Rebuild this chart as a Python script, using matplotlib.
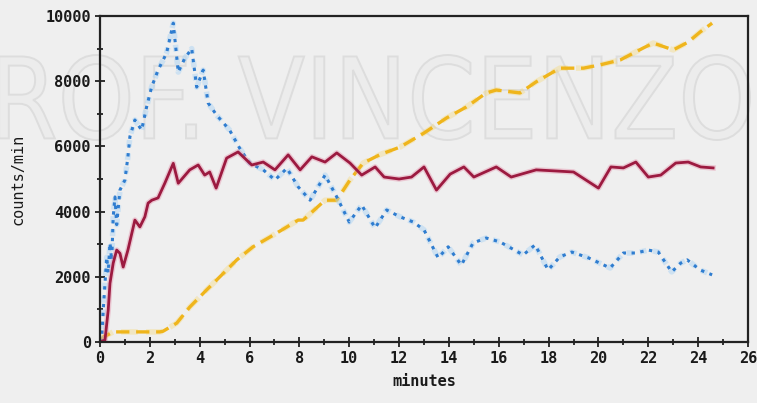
import matplotlib
matplotlib.use("Agg")
import matplotlib.pyplot as plt
from matplotlib.ticker import MultipleLocator
from matplotlib.textpath import TextPath
from matplotlib.patches import PathPatch
from matplotlib.font_manager import FontProperties
from matplotlib.transforms import Affine2D

# ---- data ----
t_red = [0, 0.2, 0.33, 0.4, 0.53, 0.67, 0.8, 0.93, 1.12, 1.4, 1.6, 1.8, 1.93, 2.08, 2.33,
         2.6, 2.94, 3.14, 3.6, 3.94, 4.2, 4.4, 4.66, 5.08, 5.54, 6.09, 6.55, 7.02, 7.55,
         8.03, 8.5, 9.03, 9.5, 10.03, 10.5, 11.04, 11.4, 12.0, 12.5, 13.0, 13.5, 14.05,
         14.6, 15.0, 15.9, 16.5, 17.5, 18.2, 19.0, 20.0, 20.5, 21.0, 21.5, 22.0, 22.5,
         23.1, 23.6, 24.1, 24.6]
red = [0, 60, 980, 1800, 2420, 2820, 2720, 2300, 2820, 3740, 3530, 3840, 4260, 4350, 4420,
       4870, 5480, 4870, 5280, 5430, 5120, 5215, 4720, 5640, 5830, 5430, 5520, 5280, 5740,
       5280, 5680, 5520, 5800, 5490, 5120, 5370, 5060, 5000, 5060, 5370, 4660, 5150,
       5370, 5060, 5370, 5060, 5280, 5250, 5215, 4720, 5370, 5340, 5520, 5060, 5120,
       5490, 5520, 5370, 5340]

t_blue = [0, 0.07, 0.13, 0.2, 0.27, 0.33, 0.4, 0.47, 0.53, 0.6, 0.67, 0.8, 1.0, 1.12, 1.2,
          1.4, 1.67, 1.87, 2.07, 2.33, 2.67, 2.94, 3.14, 3.4, 3.68, 3.88, 4.14, 4.34, 4.68,
          5.2, 5.6, 6.0, 6.55, 7.02, 7.5, 7.95, 8.43, 9.03, 9.5, 10.0, 10.5, 11.04, 11.5,
          12.04, 12.57, 13.0, 13.57, 13.97, 14.5, 14.97, 15.5, 16.05, 16.98, 17.46, 17.98,
          18.45, 18.93, 19.6, 20.47, 21.0, 21.5, 22.0, 22.4, 22.94, 23.3, 23.56, 24.08, 24.56]
blue = [0, 60, 980, 1800, 2600, 2120, 3040, 2500, 3840, 4450, 3600, 4660, 4970, 5680, 6300,
        6810, 6500, 7210, 7820, 8340, 8860, 9780, 8280, 8700, 9000, 7820, 8340, 7330, 6960,
        6500, 5950, 5490, 5280, 4970, 5330, 4760, 4350, 5120, 4450, 3680, 4200, 3500, 4050,
        3840, 3680, 3440, 2580, 2920, 2360, 3040, 3190, 3070, 2670, 2980, 2210,
        2610, 2760, 2580, 2270, 2730, 2730, 2820, 2760, 2150, 2420, 2520, 2210, 2060]

t_yel = [0, 0.13, 0.53, 1.33, 2.4, 2.53, 3.08, 3.6, 4.28, 4.94, 5.49, 6.14, 6.82, 7.5, 7.95,
         8.15, 9.03, 9.5, 10.03, 10.56, 11.24, 12.04, 13.0, 13.9, 14.7, 15.5, 15.9, 16.85,
         17.5, 18.45, 19.4, 20.06, 20.87, 21.8, 22.2, 23.0, 23.6, 24.08, 24.56]
yel = [0, 150, 310, 310, 310, 330, 580, 1070, 1600, 2100, 2520, 2920, 3220, 3530, 3740,
       3740, 4350, 4350, 4970, 5490, 5750, 5980, 6410, 6870, 7210, 7640, 7730, 7640,
       7980, 8400, 8400, 8500, 8650, 9020, 9170, 8960, 9200, 9510, 9780]

x_ticks = list(range(0, 27, 2))
y_ticks = list(range(0, 10001, 2000))
watermark = "PROF. VINCENZO"

# ---- figure ----
W, H = 757, 403
fig = plt.figure(figsize=(W / 100, H / 100), dpi=100, facecolor="#efefef")
ax = fig.add_axes([100 / W, 1 - 342 / H, 648 / W, 326 / H])
ax.set_facecolor("none")

# watermark (outlined, faint)
tp = TextPath((0, 0), watermark, size=1, prop=FontProperties(family="DejaVu Sans"))
bb = tp.get_extents()
x0, x1 = -60, 750
y0, y1 = H - 140, H - 55
tr = (Affine2D().translate(-bb.x0, -bb.y0)
      .scale((x1 - x0) / bb.width / W, (y1 - y0) / bb.height / H)
      .translate(x0 / W, y0 / H)) + fig.transFigure
wm = PathPatch(tp, transform=tr, facecolor="#ececec", edgecolor="#dddddd", lw=1.4, zorder=-1)
fig.patches.append(wm)

# lines
ax.plot(t_yel, yel, color="#f7d35a", lw=4.0, alpha=0.3, ls=(0, (3, 1.5)))
ax.plot(t_yel, yel, color="#efb51c", lw=2.4, ls=(0, (4, 2)))
ax.plot(t_blue, blue, color="#a6d2f5", lw=4.0, alpha=0.45, ls=(0, (1.2, 1.2)))
ax.plot(t_blue, blue, color="#2f7dd0", lw=2.2, ls=(0, (1.1, 1.8)))
ax.plot(t_red, red, color="#e38aa6", lw=4.0, alpha=0.4)
ax.plot(t_red, red, color="#9c1a40", lw=2.0)

ax.set_xlim(0, 26)
ax.set_ylim(0, 10000)
ax.set_xticks(x_ticks)
ax.set_yticks(y_ticks)
ax.xaxis.set_minor_locator(MultipleLocator(1))
ax.yaxis.set_minor_locator(MultipleLocator(1000))
ax.tick_params(which="both", direction="inout", color="#222222", width=1.3)
ax.tick_params(which="major", length=7, pad=3)
ax.tick_params(which="minor", length=5)

for s in ax.spines.values():
    s.set_linewidth(1.6)
    s.set_color("#222222")

mono_b = dict(family="DejaVu Sans Mono", weight="bold", size=11)
for lab in ax.get_xticklabels() + ax.get_yticklabels():
    lab.set_fontfamily("DejaVu Sans Mono")
    lab.set_fontweight("bold")
    lab.set_fontsize(11)
    lab.set_color("#1a1a1a")

ax.set_xlabel("minutes", fontdict=mono_b, color="#1a1a1a", labelpad=6)
ax.set_ylabel("counts/min", family="DejaVu Sans Mono", size=11, color="#1a1a1a", labelpad=14)

fig.savefig("out.png", dpi=100, facecolor=fig.get_facecolor())
